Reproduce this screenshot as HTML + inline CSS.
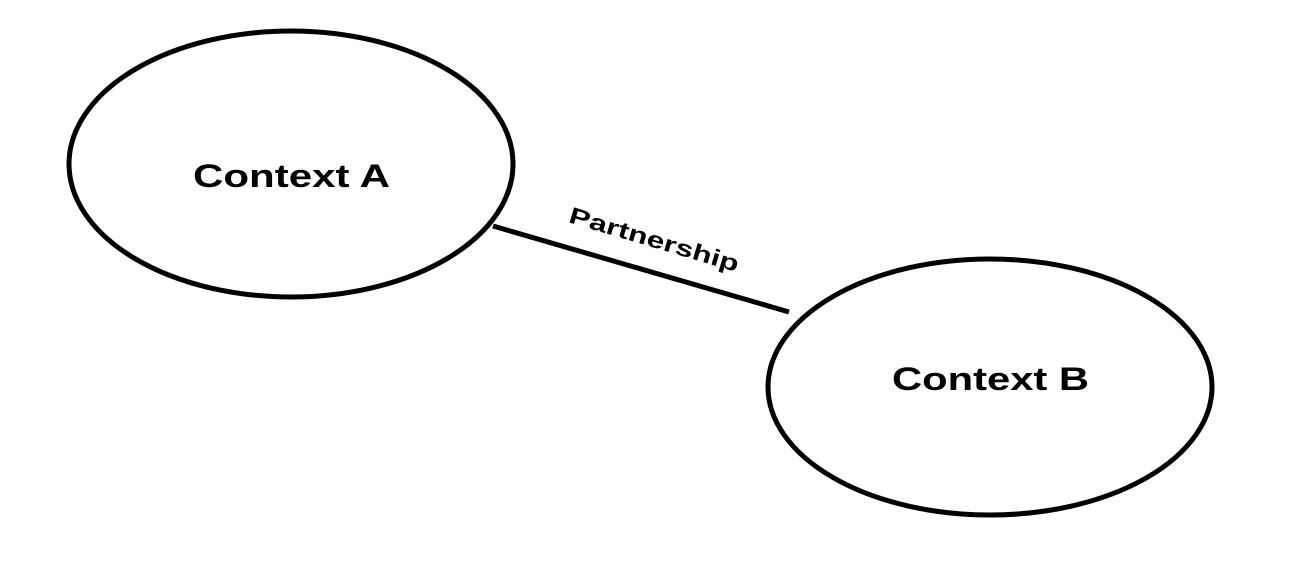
<!DOCTYPE html>
<html><head><meta charset="utf-8"><style>
html,body{margin:0;padding:0;background:#fff;}
</style></head><body>
<svg width="1296" height="556" viewBox="0 0 1296 556" xmlns="http://www.w3.org/2000/svg">
<rect width="1296" height="556" fill="#fff"/>
<line x1="493" y1="226" x2="789" y2="312" stroke="#000" stroke-width="5"/>
<ellipse cx="291" cy="164" rx="222" ry="133" fill="#fff" stroke="#000" stroke-width="5"/>
<ellipse cx="990" cy="387" rx="222" ry="128" fill="#fff" stroke="#000" stroke-width="5"/>
<text x="193" y="187" textLength="197" lengthAdjust="spacingAndGlyphs" font-family="Liberation Sans, sans-serif" font-weight="bold" font-size="32">Context A</text>
<text x="892" y="390" textLength="197" lengthAdjust="spacingAndGlyphs" font-family="Liberation Sans, sans-serif" font-weight="bold" font-size="32">Context B</text>
<text x="-88" y="0" transform="translate(652,247) rotate(16.5)" textLength="176" lengthAdjust="spacingAndGlyphs" font-family="Liberation Sans, sans-serif" font-weight="bold" font-size="23">Partnership</text>
</svg>
</body></html>
